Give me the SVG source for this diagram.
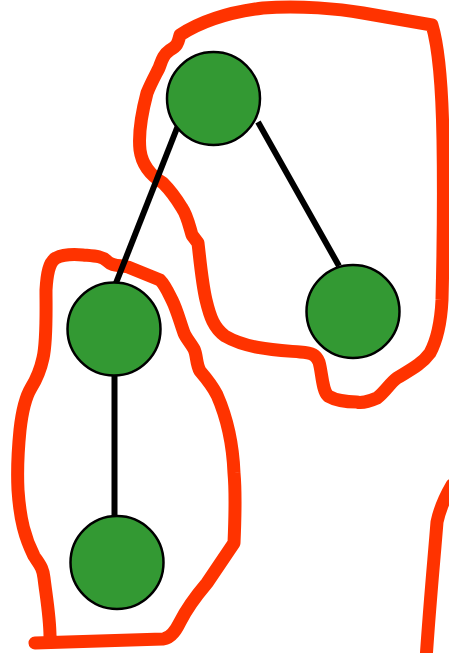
<svg xmlns="http://www.w3.org/2000/svg" width="449" height="653" viewBox="0 0 449 653">
  <style>
    .node { fill: #339933; stroke: #000; stroke-width: 2.5; }
    .edge { stroke: #000; stroke-width: 6; stroke-linecap: butt; fill: none; }
    .lasso { fill: none; stroke: #ff3300; stroke-width: 13; stroke-linecap: round; stroke-linejoin: round; }
  </style>
  <rect width="449" height="653" fill="#fff"/>

  <!-- freehand group outlines -->
  <g id="outlines">
    <path class="lasso" d="M180,35 C200,22 230,12 263,8 C300,5 340,9 363,13 L432,25 C438,45 442,80 443,140 C444,200 443,260 442,300 C441,320 437,340 430,353 C422,364 410,370 397,378 C390,383 385,392 377,398 C368,402 360,403 357,402 C345,402 335,400 328,396 C322,390 322,372 319,362 C316,355 313,353 300,352 C277,350 247,349 225,336 C214,328 210,317 206,300 C202,283 200,260 198,243 L192,235 C189,225 187,215 182,208 C176,198 170,190 163,183 C150,175 142,165 140,150 C138,132 142,112 147,93 C151,83 155,76 159,68 C162,60 163,55 170,50 C178,46 178,42 180,35 Z"/>
    <path class="lasso" d="M35,643 L163,639 C172,638 177,628 180,622 C186,610 196,596 207,583 L234,543 C235,520 236,495 234,473 C233,448 228,420 217,395 C212,385 206,378 200,371 C196,364 197,355 194,349 C190,342 186,338 184,333 C180,322 177,310 172,300 C168,292 165,285 160,280 L128,267 C118,265 112,266 107,261 C102,256 95,256 83,255 C72,254 62,255 56,258 C49,262 47,273 46,290 C46,310 47,340 43,358 C40,372 36,380 31,388 C25,398 22,412 20,430 C18,450 17,470 18,490 C20,520 25,538 34,556 C40,565 43,568 44,578 C46,595 50,617 50,637"/>
    <path class="lasso" d="M452,485 C445,497 440,508 437,522 C434,560 430,600 426,660"/>
  </g>

  <!-- connectors -->
  <g id="edges">
    <line class="edge" x1="179" y1="123" x2="116" y2="283"/>
    <line class="edge" x1="258" y1="122" x2="339" y2="266"/>
    <line class="edge" x1="114.5" y1="376" x2="114.5" y2="520"/>
  </g>

  <!-- nodes -->
  <g id="node-root"><circle class="node" cx="213.5" cy="98.5" r="46.5"/></g>
  <g id="node-right"><circle class="node" cx="353" cy="311.5" r="46.5"/></g>
  <g id="node-left"><circle class="node" cx="114" cy="329" r="46.5"/></g>
  <g id="node-bottom"><circle class="node" cx="117" cy="562.5" r="46.5"/></g>
</svg>
